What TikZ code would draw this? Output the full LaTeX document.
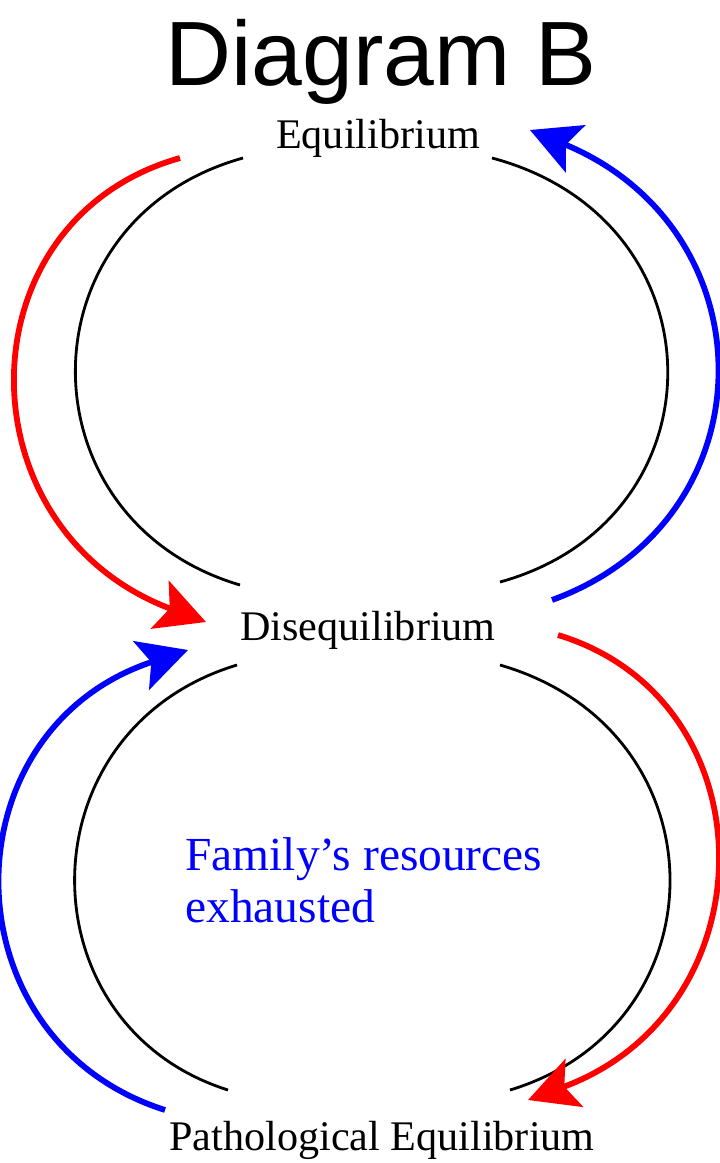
\documentclass[tikz,border=0pt]{standalone}
\usepackage{fontspec}
\setmainfont{Liberation Serif}
\newfontfamily\titlefont{Liberation Sans}
\usetikzlibrary{arrows.meta}

\begin{document}
\begin{tikzpicture}[x=0.02cm,y=-0.02cm,
  arcline/.style={line width=1.6pt},
  flow/.style={line width=3.3pt,-{Stealth[length=28pt,width=29pt,inset=6pt]}},
  state/.style={font=\fontsize{24}{28}\selectfont,inner sep=0pt,anchor=base}]
  \useasboundingbox (0,0) rectangle (720,1163);
  % title and states
  \node[font=\titlefont\fontsize{52}{60}\selectfont,inner sep=0pt,anchor=base]
    (title) at (381,85) {Diagram B};
  \node[state] (equi) at (378,148) {Equilibrium};
  \node[state] (diseq) at (368,640) {Disequilibrium};
  \node[state] (patho) at (382,1150) {Pathological Equilibrium};
  \node[font=\fontsize{27}{29.5}\selectfont,text=blue,align=left,
    inner sep=0pt,anchor=west] (note) at (185,880)
    {Family’s resources\\exhausted};
  % end points of the arcs
  \coordinate (tl1) at (243,158); \coordinate (tl2) at (240,585);
  \coordinate (tr1) at (492,158); \coordinate (tr2) at (500,582);
  \coordinate (bl1) at (237,665); \coordinate (bl2) at (228,1090);
  \coordinate (br1) at (500,665); \coordinate (br2) at (510,1090);
  % black arcs
  \draw[arcline] (tl1) .. controls (20,220) and (20,520) .. (tl2);
  \draw[arcline] (tr1) .. controls (725,220) and (725,520) .. (tr2);
  \draw[arcline] (bl1) .. controls (22,730) and (22,1025) .. (bl2);
  \draw[arcline] (br1) .. controls (725,730) and (725,1025) .. (br2);
  % end points of the flows
  \coordinate (r1a) at (180,158); \coordinate (r1b) at (206,622);
  \coordinate (b1a) at (552,600); \coordinate (b1b) at (530,130);
  \coordinate (r2a) at (558,635); \coordinate (r2b) at (528,1100);
  \coordinate (b2a) at (165,1110); \coordinate (b2b) at (188,650);
  % coloured flows
  \draw[flow,red] (r1a) .. controls (-40,220) and (-40,530) .. (r1b);
  \draw[flow,blue] (b1a) .. controls (772,520) and (772,230) .. (b1b);
  \draw[flow,red] (r2a) .. controls (772,700) and (772,1010) .. (r2b);
  \draw[flow,blue] (b2a) .. controls (-55,1040) and (-55,730) .. (b2b);
\end{tikzpicture}
\end{document}
